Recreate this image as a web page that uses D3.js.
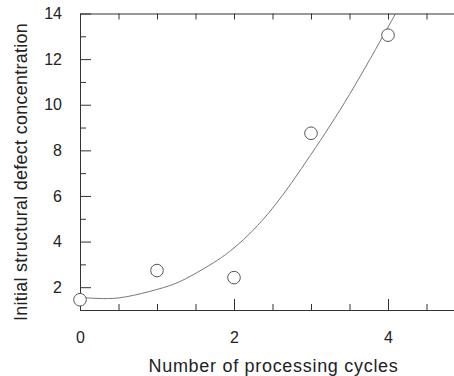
<!DOCTYPE html>
<html>
<head>
<meta charset="utf-8">
<script src="https://cdn.jsdelivr.net/npm/d3@7"></script>
<style>
  body { margin: 0; background: #fff; }
  svg { display: block; font-family: "Liberation Sans", Arial, Helvetica, sans-serif; }
</style>
</head>
<body>
<script>
// measured points
const cycles = [0, 1, 2, 3, 4];
const defectConc = [1.45, 2.73, 2.42, 8.75, 13.05];

// fitted curve
const fitX = [0, 0.3, 0.6, 1.0, 1.3, 1.6, 2.0, 2.5, 3.0, 3.5, 4.0, 4.2];
const fitY = [1.55, 1.5, 1.58, 1.9, 2.25, 2.8, 3.72, 5.46, 7.82, 10.45, 13.4, 14.6];

const xMajor = [0, 2, 4];
const xMinor = d3.range(0, 5.01, 0.5);
const yMajor = [2, 4, 6, 8, 10, 12, 14];
const yMinor = [1, 3, 5, 7, 9, 11, 13];

const width = 454, height = 376;
const margin = { top: 13.5, right: -11, bottom: 66, left: 80 };

const x = d3.scaleLinear().domain([0, 5]).range([margin.left, width - margin.right]);
const y = d3.scaleLinear().domain([1, 14]).range([height - margin.bottom, margin.top]);

const svg = d3.select("body").append("svg")
  .attr("width", width)
  .attr("height", height);

const axisColor = "#333";

// bottom axis
svg.append("g")
  .attr("transform", `translate(0,${y(1)})`)
  .call(d3.axisBottom(x).tickValues(xMinor).tickSize(-6).tickFormat("").tickSizeOuter(0));
svg.append("g")
  .attr("class", "xlab")
  .attr("transform", `translate(0,${y(1)})`)
  .call(d3.axisBottom(x).tickValues(xMajor).tickSize(-11).tickPadding(22).tickFormat(d3.format("d")).tickSizeOuter(0));

// top axis
svg.append("g")
  .attr("transform", `translate(0,${y(14)})`)
  .call(d3.axisTop(x).tickValues(xMinor).tickSize(-6).tickFormat("").tickSizeOuter(0));

// left axis
svg.append("g")
  .attr("transform", `translate(${x(0)},0)`)
  .call(d3.axisLeft(y).tickValues(yMinor).tickSize(-6).tickFormat("").tickSizeOuter(0));
svg.append("g")
  .attr("class", "ylab")
  .attr("transform", `translate(${x(0)},0)`)
  .call(d3.axisLeft(y).tickValues(yMajor).tickSize(-11).tickPadding(18).tickFormat(d3.format("d")).tickSizeOuter(0));

// right axis
svg.append("g")
  .attr("transform", `translate(${x(5)},0)`)
  .call(d3.axisRight(y).tickValues(yMajor).tickSize(-11).tickFormat("").tickSizeOuter(0));
svg.append("g")
  .attr("transform", `translate(${x(5)},0)`)
  .call(d3.axisRight(y).tickValues(yMinor).tickSize(-6).tickFormat("").tickSizeOuter(0));

svg.selectAll(".domain, .tick line").attr("stroke", axisColor).attr("stroke-width", 1);
svg.selectAll(".tick text")
  .attr("fill", "#222")
  .style("font-size", "16px");

// fitted curve, clipped to the frame
svg.append("clipPath").attr("id", "plot")
  .append("rect")
  .attr("x", x(0)).attr("y", y(14))
  .attr("width", x(5) - x(0)).attr("height", y(1) - y(14));

const fitLine = d3.line()
  .x((d, i) => x(fitX[i]))
  .y((d, i) => y(fitY[i]))
  .curve(d3.curveNatural);

svg.append("path")
  .attr("d", fitLine(fitX))
  .attr("clip-path", "url(#plot)")
  .attr("fill", "none")
  .attr("stroke", "#777")
  .attr("stroke-width", 1);

// data circles
svg.selectAll("circle.pt")
  .data(cycles)
  .enter()
  .append("circle")
  .attr("class", "pt")
  .attr("cx", (d, i) => x(cycles[i]))
  .attr("cy", (d, i) => y(defectConc[i]))
  .attr("r", 6.3)
  .attr("fill", "#fff")
  .attr("stroke", "#555")
  .attr("stroke-width", 1);

// axis titles
svg.append("text")
  .attr("x", (x(0) + x(5)) / 2 + 1)
  .attr("y", 372)
  .attr("text-anchor", "middle")
  .attr("fill", "#222")
  .style("font-size", "18px")
  .style("letter-spacing", "0.7px")
  .text("Number of processing cycles");

svg.append("text")
  .attr("transform", "translate(27,172) rotate(-90)")
  .attr("text-anchor", "middle")
  .attr("fill", "#222")
  .style("font-size", "18px")
  .style("letter-spacing", "0.25px")
  .text("Initial structural defect concentration");
</script>
</body>
</html>
